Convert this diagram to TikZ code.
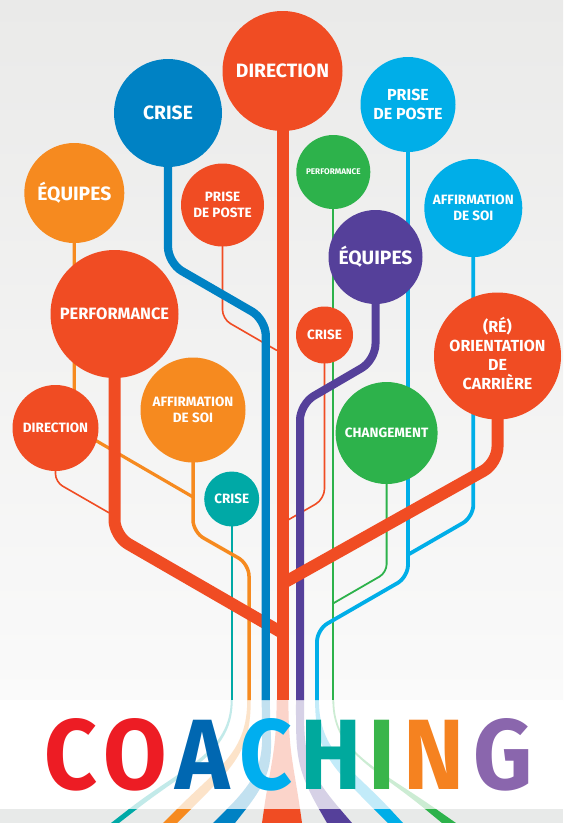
\documentclass[tikz,border=0pt]{standalone}
\usepackage{fontspec}
\setmainfont{Fira Sans}
\definecolor{cred}{HTML}{F04C23}
\definecolor{cdblue}{HTML}{0082C4}
\definecolor{clblue}{HTML}{00AEE8}
\definecolor{cgreen}{HTML}{2DB24B}
\definecolor{corange}{HTML}{F68A1F}
\definecolor{cpurple}{HTML}{55409A}
\definecolor{cteal}{HTML}{00A9A6}
\definecolor{lred}{HTML}{ED1C24}
\definecolor{ldblue}{HTML}{0067B1}
\definecolor{llblue}{HTML}{00AEEF}
\definecolor{lteal}{HTML}{00A99D}
\definecolor{lgreen}{HTML}{39B54A}
\definecolor{lorange}{HTML}{F58220}
\definecolor{lpurple}{HTML}{8A66AD}
\definecolor{bgtop}{HTML}{EAEAE9}
\definecolor{bgbot}{HTML}{FAFAFA}
\definecolor{bggrey}{HTML}{E8EAE9}
\newcommand\fbig{\fontsize{19.3}{22}\selectfont\bfseries}
\newcommand\fmed{\fontsize{16}{18.6}\selectfont\bfseries}
\newcommand\fperf{\fontsize{16.4}{19}\selectfont\bfseries}
\newcommand\fsmall{\fontsize{13.5}{16.3}\selectfont\bfseries}
\newcommand\ftiny{\fontsize{8.2}{10}\selectfont\bfseries}
\newcommand\fcoach{\fontsize{100}{100}\selectfont\bfseries}
\pgfdeclarelayer{bg}
\pgfdeclarelayer{lines}
\pgfsetlayers{bg,lines,main}
% root shape: color, x0, half width, a, b (at 809), c, d (at 823)
\newcommand\myroot[7]{%
  \fill[#1] ({#2-#3},700) .. controls ({#2-#3},752) and ({#4-3*(#6-#4)},767) .. (#4,809)
    -- ({#4+2*(#6-#4)},837) -- ({#5+2*(#7-#5)},837) -- (#5,809)
    .. controls ({#5-3*(#7-#5)},767) and ({#2+#3},752) .. ({#2+#3},700) -- cycle;}
\tikzset{
  bub/.style={circle, inner sep=0pt, text=white, align=center},
  stem/.style={line cap=butt, line join=round},
  thick red/.style={stem, draw=cred, line width=12pt, rounded corners=16pt},
  thin red/.style={stem, draw=cred, line width=1.6pt, rounded corners=9pt},
  letter/.style={anchor=base, inner sep=0pt, font=\fcoach, xscale=0.92}
}
\begin{document}
\begin{tikzpicture}[x=1pt,y=-1pt]
\useasboundingbox (0,0) rectangle (563,823);
% ---------- circles ----------
\node[bub, fill=cred,    minimum size=120pt, font=\fbig]  (dirA)  at (282.5,71)  {DIRECTION};
\node[bub, fill=cdblue,  minimum size=108pt, font=\fbig]  (criA)  at (168,113)   {CRISE};
\node[bub, fill=clblue,  minimum size=95pt,  font=\fmed]  (priA)  at (408,104.5) {PRISE\\DE POSTE};
\node[bub, fill=cgreen,  minimum size=74pt,  font=\ftiny] (perA)  at (333.3,172) {PERFORMANCE};
\node[bub, fill=corange, minimum size=100pt, font=\fbig]  (equA)  at (74.3,193)  {ÉQUIPES};
\node[bub, fill=cred,    minimum size=83pt,  font=\fsmall](priB)  at (222.5,205) {PRISE\\DE POSTE};
\node[bub, fill=clblue,  minimum size=98pt,  font=\fsmall](affA)  at (473.3,208) {AFFIRMATION\\DE SOI};
\node[bub, fill=cpurple, minimum size=94pt,  font=\fbig]  (equB)  at (375.5,257) {ÉQUIPES};
\node[bub, fill=cred,    minimum size=128pt, font=\fperf] (perB)  at (114.5,314) {PERFORMANCE};
\node[bub, fill=cred,    minimum size=86pt,  font=\fsmall](dirB)  at (55.5,428)  {DIRECTION};
\node[bub, fill=corange, minimum size=105pt, font=\fsmall](affB)  at (193,410)   {AFFIRMATION\\DE SOI};
\node[bub, fill=cteal,   minimum size=55pt,  font=\fsmall](criB)  at (231.7,499) {CRISE};
\node[bub, fill=cred,    minimum size=57pt,  font=\fsmall](criC)  at (324.5,335) {CRISE};
\node[bub, fill=cgreen,  minimum size=102pt, font=\fsmall](chaA)  at (386.6,433) {CHANGEMENT};
\node[bub, fill=cred,    minimum size=127pt] (oriA) at (497.5,356) {};
\node[text=white, align=center, inner sep=0pt, font={\fontsize{16}{19.2}\selectfont\bfseries}] (oriT) at (497.5,353.3) {(RÉ)\\ORIENTATION\\DE\\CARRIÈRE};
% ---------- COACHING ----------
\node[letter, text=lred]    (L1) at (71.1,789)  {C};
\node[letter, text=lred]    (L2) at (135.5,789) {O};
\node[letter, text=ldblue]  (L3) at (202.2,789) {A};
\node[letter, text=llblue]  (L4) at (265.7,789) {C};
\node[letter, text=lteal]   (L5) at (330.9,789) {H};
\node[letter, text=lgreen]  (L6) at (381.7,789) {I};
\node[letter, text=lorange] (L7) at (433.8,789) {N};
\node[letter, text=lpurple] (L8) at (502.7,789) {G};
% ---------- trunk end points ----------
\coordinate (tTeal)   at (231.7,700);
\coordinate (tOrange) at (249,700);
\coordinate (tDblue)  at (265.8,700);
\coordinate (tRed)    at (282.5,700);
\coordinate (tPurple) at (300,700);
\coordinate (tLblue)  at (317,700);
\coordinate (tGreen)  at (333.3,700);
\begin{pgfonlayer}{bg}
  \fill[top color=bgtop, bottom color=bgbot] (0,0) rectangle (563,700);
  \fill[white] (0,700) rectangle (563,809);
  \fill[bggrey] (0,809) rectangle (563,823);
  \begin{scope}
    \clip (0,700) rectangle (563,809);
    \begin{scope}[opacity=0.24]
      \myroot{cteal}{231.7}{1}{129}{137}{111}{119}
      \myroot{corange}{249}{1.75}{177}{191}{163}{177}
      \myroot{cdblue}{265.8}{4.1}{227}{246}{213}{235}
      \myroot{cred}{282.5}{5.9}{264}{300}{262}{302}
      \myroot{cpurple}{300}{4}{319}{340}{327}{352}
      \myroot{clblue}{317}{1.9}{374}{390}{388}{403}
      \myroot{cgreen}{333.3}{0.9}{425}{436}{442}{456}
    \end{scope}
  \end{scope}
  \begin{scope}
    \clip (0,809) rectangle (563,823);
    \myroot{cteal}{231.7}{1}{129}{137}{111}{119}
    \myroot{corange}{249}{1.75}{177}{191}{163}{177}
    \myroot{cdblue}{265.8}{4.1}{227}{246}{213}{235}
    \myroot{cred}{282.5}{5.9}{264}{300}{262}{302}
    \myroot{cpurple}{300}{4}{319}{340}{327}{352}
    \myroot{clblue}{317}{1.9}{374}{390}{388}{403}
    \myroot{cgreen}{333.3}{0.9}{425}{436}{442}{456}
  \end{scope}
\end{pgfonlayer}
\begin{pgfonlayer}{lines}
  % thin lines
  \draw[stem, cteal, line width=2pt] (criB.center) -- (tTeal);
  \draw[stem, cgreen, line width=1.8pt] (perA.center) -- (tGreen);
  \draw[stem, cgreen, line width=1.8pt, rounded corners=8pt] (chaA.center) -- (386.6,572.5) -- (333.3,603.3);
  \draw[stem, corange, line width=3.2pt, rounded corners=10pt] (equA.center) -- (74.3,428) -- (193,497);
  \draw[stem, corange, line width=3.5pt, rounded corners=12pt] (affB.center) -- (193,532) -- (249,564) -- (tOrange);
  \draw[stem, clblue, line width=3.8pt, rounded corners=12pt] (priA.center) -- (408,577) -- (317,629.5) -- (tLblue);
  \draw[stem, clblue, line width=3.8pt, rounded corners=12pt] (affA.center) -- (473.3,517) -- (408,554.7);
  \draw[thin red] (priB.center) -- (222.5,319) -- (277,350.5);
  \draw[thin red, rounded corners=8pt] (dirB.center) -- (55.5,482) -- (109,512.8);
  \draw[thin red, rounded corners=10pt] (criC.center) -- (324.5,499) -- (288,520);
  % purple
  \draw[stem, cpurple, line width=8pt, rounded corners=16pt] (equB.center) -- (375.5,360) -- (300,404) -- (tPurple);
  % thick red
  \draw[thick red] (dirA.center) -- (tRed);
  \draw[thick red] (perB.center) -- (114.5,536) -- (282.5,633);
  \draw[thick red] (oriA.center) -- (497.5,463) -- (282.5,583.5);
  % dark blue on top
  \draw[stem, cdblue, line width=8.3pt, rounded corners=16pt] (criA.center) -- (168,263) -- (265.8,319.5) -- (tDblue);
\end{pgfonlayer}
\end{tikzpicture}
\end{document}
